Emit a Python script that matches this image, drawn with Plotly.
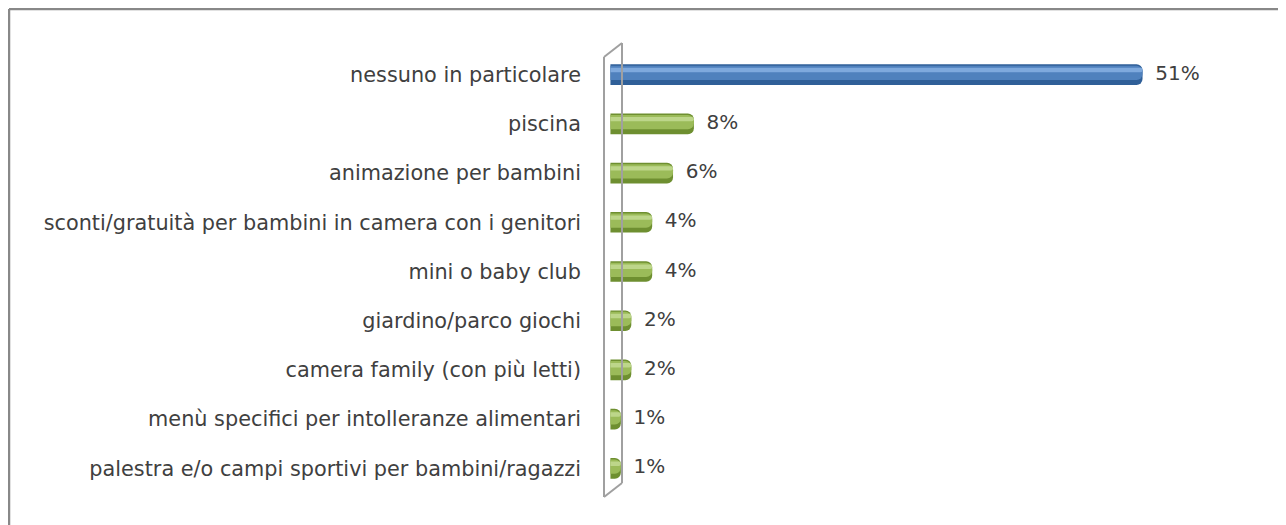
import plotly.graph_objects as go

categories = [
    "nessuno in particolare",
    "piscina",
    "animazione per bambini",
    "sconti/gratuità per bambini in camera con i genitori",
    "mini o baby club",
    "giardino/parco giochi",
    "camera family (con più letti)",
    "menù specifici per intolleranze alimentari",
    "palestra e/o campi sportivi per bambini/ragazzi",
]
values = [51, 8, 6, 4, 4, 2, 2, 1, 1]
labels = ["51%", "8%", "6%", "4%", "4%", "2%", "2%", "1%", "1%"]

OFF = 8  # page body margin
W, H = 1286 - OFF, 525 - OFF
L, R, T, B = 600 - OFF, 60, 50 - OFF, 32
PW, PH = W - L - R, H - T - B

dark = ["#2F5F98"] + ["#6E8F30"] * 8
mid = ["#4F81BD"] + ["#9BBB59"] * 8
light = ["#7EA9DD"] + ["#BDD68A"] * 8

FONT = "DejaVu Sans"

fig = go.Figure()
for col, wdt, off in [(dark, 0.42, -0.21), (mid, 0.29, -0.18), (light, 0.09, -0.14)]:
    fig.add_trace(go.Bar(
        x=values, y=list(range(len(categories))), orientation="h",
        width=wdt, offset=off,
        marker=dict(color=col, line=dict(width=0), cornerradius=6),
        hoverinfo="skip", showlegend=False,
    ))

fig.add_trace(go.Scatter(
    x=values, y=list(range(len(categories))), mode="text",
    text=["  " + t for t in labels], textposition="middle right",
    textfont=dict(family=FONT, size=20, color="#404040"),
    showlegend=False, hoverinfo="skip", cliponaxis=False,
))


def px(sx):
    return (sx - OFF - L) / PW


def py(sy):
    return 1 - (sy - OFF - T) / PH


wall = dict(type="line", xref="paper", yref="paper", line=dict(color="#A0A0A0", width=2))
frame = dict(type="line", xref="paper", yref="paper", line=dict(color="#888888", width=2.5))
shapes = [
    dict(wall, x0=px(604), y0=py(57), x1=px(604), y1=py(497)),
    dict(wall, x0=px(622), y0=py(43), x1=px(622), y1=py(483)),
    dict(wall, x0=px(604), y0=py(57), x1=px(622), y1=py(43)),
    dict(wall, x0=px(604), y0=py(497), x1=px(622), y1=py(483)),
    dict(frame, x0=px(9), y0=py(9), x1=px(1300), y1=py(9)),
    dict(frame, x0=px(9), y0=py(9), x1=px(9), y1=py(540)),
]

fig.update_layout(
    width=W, height=H,
    margin=dict(l=L, r=R, t=T, b=B),
    barmode="overlay",
    plot_bgcolor="white", paper_bgcolor="white",
    shapes=shapes,
    xaxis=dict(range=[-1, 59], visible=False, fixedrange=True),
    yaxis=dict(
        range=[8.5, -0.5], tickmode="array",
        tickvals=list(range(len(categories))), ticktext=categories,
        showgrid=False, zeroline=False, showline=False, ticks="",
        ticklabelstandoff=18,
        tickfont=dict(family=FONT, size=20.8, color="#404040"),
        fixedrange=True,
    ),
)

fig.write_html("out.html")
